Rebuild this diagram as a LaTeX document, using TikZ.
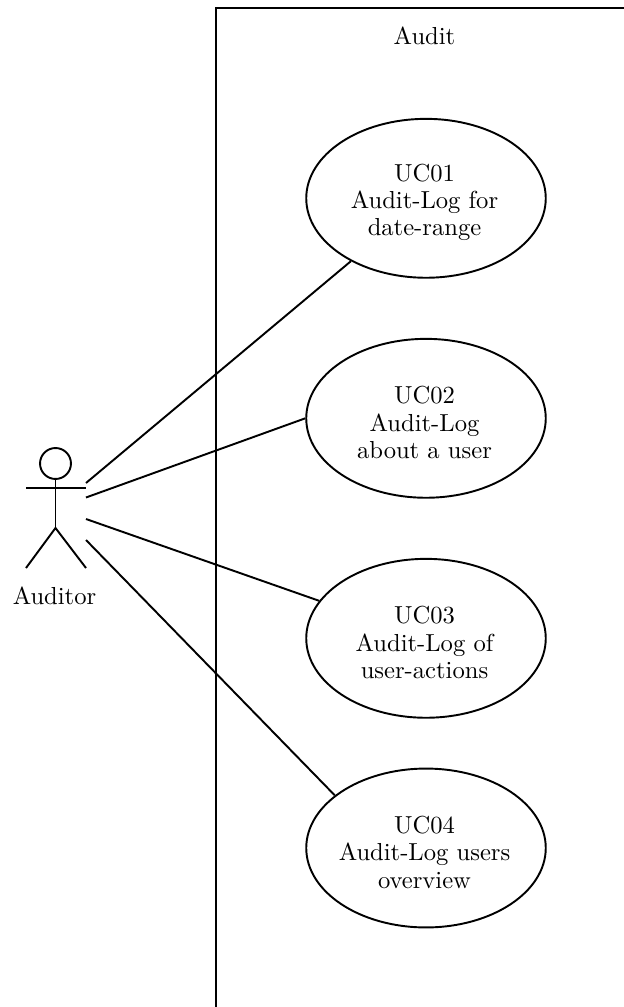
\documentclass[tikz,border=0pt]{standalone}
\usetikzlibrary{shapes.geometric}
\newcommand\threelines[3]{\rule{0pt}{10.7pt}#1\kern1.25pt\\#2\kern1.25pt\\#3\kern1.25pt}
\tikzset{
  px/.style={x=0.41667pt,y=-0.41667pt},
  usecase/.style={ellipse,draw,line width=0.8pt,inner ysep=0pt,inner xsep=-5pt,minimum width=99.8pt,minimum height=66.2pt,align=center,font=\fontsize{10.25}{11.4}\selectfont},
  wire/.style={line width=0.8pt},
  plain/.style={inner sep=0pt,font=\fontsize{10.25}{11.4}\selectfont}
}
\begin{document}
\begin{tikzpicture}[px]
\useasboundingbox (0,0) rectangle (624,1007);
\fill[white] (0,0) rectangle (624,1007);
\draw[wire] (216,1007) |- (624,8);
\node[plain] (boundary) at (424.5,35.7) {Audit};
\node[usecase] (uc1) at (426,198.3) {\threelines{UC01}{Audit-Log for}{date-range}};
\node[usecase] (uc2) at (426,418.3) {\threelines{UC02}{Audit-Log}{about a user}};
\node[usecase] (uc3) at (426,638.3) {\threelines{UC03}{Audit-Log of}{user-actions}};
\node[usecase] (uc4) at (426,848) {\threelines{UC04}{Audit-Log users}{overview}};
% actor
\node[circle,draw,line width=0.8pt,inner sep=0pt,minimum size=12.9pt] (head) at (55.5,463.5) {};
\coordinate (hip) at (55.5,528);
\coordinate (armL) at (26,488);
\coordinate (armR) at (86,488);
\coordinate (footL) at (26,568);
\coordinate (footR) at (86,568);
\draw[wire] (head.south) -- (hip);
\draw[wire] (armL) -- (armR);
\draw[wire] (footL) -- (hip) -- (footR);
\node[plain] (actor) at (54.5,595.5) {Auditor};
% connectors
\coordinate (a1) at (86,483);
\coordinate (a2) at (86,497.5);
\coordinate (a3) at (86,519);
\coordinate (a4) at (86,540);
\draw[wire] (a1) -- (uc1);
\draw[wire] (a2) -- (uc2.west);
\draw[wire] (a3) -- (uc3);
\draw[wire] (a4) -- (uc4.150.5);
\end{tikzpicture}
\end{document}
